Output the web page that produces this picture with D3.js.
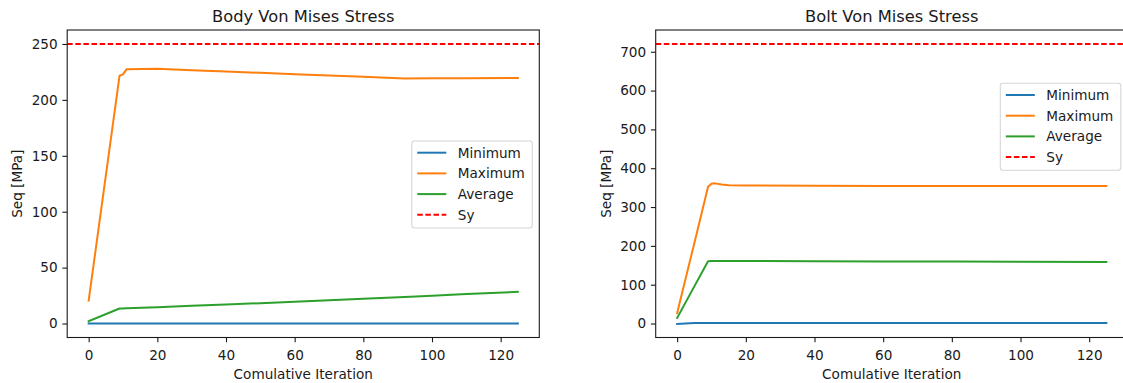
<!DOCTYPE html>
<html>
<head>
<meta charset="utf-8">
<script src="https://cdn.jsdelivr.net/npm/d3@7/dist/d3.min.js"></script>
<style>
  html, body { margin: 0; padding: 0; background: #fff; }
  svg { display: block; }
  text { font-family: "DejaVu Sans", sans-serif; fill: #1a1a1a; }
</style>
</head>
<body>
<svg id="chart" width="1123" height="383"></svg>
<script>
// series names + colours (matplotlib default cycle)
const seriesNames = ["Minimum", "Maximum", "Average"];
const seriesColors = ["#1f77b4", "#ff7f0e", "#2ca02c"];

// body values
const bodyIter = [0, 9, 10, 11, 20, 30, 40, 50, 60, 70, 80, 92, 100, 110, 125];
const bodyMin  = [0, 0, 0, 0, 0, 0, 0, 0, 0, 0, 0, 0, 0, 0, 0];
const bodyMax  = [20.5, 221.6, 222.8, 227.3, 227.8, 226.6, 225.4, 224.2, 223.0, 221.9, 220.8, 219.2, 219.3, 219.3, 219.5];
const bodyAvg  = [2, 13.4, 13.5, 13.7, 14.6, 15.8, 17.0, 18.2, 19.5, 20.8, 22.1, 23.8, 24.9, 26.3, 28.3];
const bodySy = 250;
const bodyYTicks = [0, 50, 100, 150, 200, 250];

// bolt values
const boltIter = [0, 5, 9, 10, 11, 13, 15, 20, 40, 60, 80, 100, 125];
const boltMin  = [-1, 1.5, 1.5, 1.5, 1.5, 1.5, 1.5, 1.5, 1.5, 1.5, 1.5, 1.5, 1.5];
const boltMax  = [27, 207, 352, 360, 361, 358, 356, 355.5, 355, 354.5, 354, 354, 354];
const boltAvg  = [14.6, 95.7, 160.6, 161, 161, 161, 161, 161, 160.5, 160, 159.5, 159, 158.5];
const boltSy = 720;
const boltYTicks = [0, 100, 200, 300, 400, 500, 600, 700];

const xTicks = [0, 20, 40, 60, 80, 100, 120];

const svg = d3.select("#chart");
const FS = 13.6;

function panel(opts) {
  const {left, iter, series, sy, yDomain, yTicks, title, legendTop, id} = opts;
  const top = 30, bottom = 337.5, width = 472.1;
  const right = left + width;

  const x = d3.scaleLinear().domain([-6.25, 131.25]).range([left, right]);
  const y = d3.scaleLinear().domain(yDomain).range([bottom, top]);

  const g = svg.append("g");

  g.append("clipPath").attr("id", "clip-" + id)
    .append("rect").attr("x", left).attr("y", top)
    .attr("width", width).attr("height", bottom - top);

  const plot = g.append("g").attr("clip-path", `url(#clip-${id})`);

  const line = d3.line()
    .x(d => x(d[0]))
    .y(d => y(d[1]));

  series.forEach((vals, i) => {
    plot.append("path")
      .datum(iter.map((it, k) => [it, vals[k]]))
      .attr("fill", "none")
      .attr("stroke", seriesColors[i])
      .attr("stroke-width", 2)
      .attr("stroke-linejoin", "round")
      .attr("stroke-linecap", "square")
      .attr("d", line);
  });

  // yield line
  plot.append("line")
    .attr("x1", left).attr("x2", right)
    .attr("y1", y(sy)).attr("y2", y(sy))
    .attr("stroke", "#ff0000")
    .attr("stroke-width", 2)
    .attr("stroke-dasharray", "5.5,2.6");

  // axes
  const xAxis = d3.axisBottom(x).tickValues(xTicks).tickSize(4.8).tickPadding(4.8).tickFormat(d3.format("d"));
  const yAxis = d3.axisLeft(y).tickValues(yTicks).tickSize(4.8).tickPadding(4.8).tickFormat(d3.format("d"));

  const gx = g.append("g").attr("transform", `translate(0,${bottom})`).call(xAxis);
  const gy = g.append("g").attr("transform", `translate(${left},0)`).call(yAxis);
  [gx, gy].forEach(a => {
    a.select(".domain").remove();
    a.selectAll(".tick line").attr("stroke", "#1a1a1a").attr("stroke-width", 1.1);
    a.selectAll(".tick text").attr("font-size", FS).attr("fill", "#1a1a1a")
      .attr("font-family", "DejaVu Sans, sans-serif");
  });
  gx.selectAll(".tick text").attr("dy", null).attr("y", 22);

  // frame
  g.append("rect")
    .attr("x", left).attr("y", top)
    .attr("width", width).attr("height", bottom - top)
    .attr("fill", "none").attr("stroke", "#1a1a1a").attr("stroke-width", 1.1);

  // title and labels
  g.append("text")
    .attr("x", (left + right) / 2).attr("y", 22)
    .attr("text-anchor", "middle").attr("font-size", 16.3)
    .text(title);

  g.append("text")
    .attr("x", (left + right) / 2).attr("y", 378.5)
    .attr("text-anchor", "middle").attr("font-size", FS)
    .text("Comulative Iteration");

  g.append("text")
    .attr("transform", `translate(${left - 45},${(top + bottom) / 2}) rotate(-90)`)
    .attr("text-anchor", "middle").attr("font-size", FS)
    .text("Seq [MPa]");

  // legend
  const lw = 120.5, lh = 87;
  const lx = right - 7 - lw;
  const leg = g.append("g").attr("transform", `translate(${lx},${legendTop})`);
  leg.append("rect")
    .attr("width", lw).attr("height", lh).attr("rx", 2.7)
    .attr("fill", "#fff").attr("fill-opacity", 0.8)
    .attr("stroke", "#d6d6d6").attr("stroke-width", 1.1);

  const items = seriesNames.map((n, i) => ({name: n, color: seriesColors[i], dash: null}))
    .concat([{name: "Sy", color: "#ff0000", dash: "5.5,2.6"}]);

  items.forEach((it, i) => {
    const cy = 11.7 + i * 20.7;
    leg.append("line")
      .attr("x1", 5.5).attr("x2", 34.5).attr("y1", cy).attr("y2", cy)
      .attr("stroke", it.color).attr("stroke-width", 2)
      .attr("stroke-dasharray", it.dash);
    leg.append("text")
      .attr("x", 46).attr("y", cy).attr("dy", "0.36em")
      .attr("font-size", FS)
      .text(it.name);
  });
}

panel({
  id: "body", left: 67.2, iter: bodyIter,
  series: [bodyMin, bodyMax, bodyAvg], sy: bodySy,
  yDomain: [-12.5, 262.5], yTicks: bodyYTicks,
  title: "Body Von Mises Stress", legendTop: 141
});

panel({
  id: "bolt", left: 655.7, iter: boltIter,
  series: [boltMin, boltMax, boltAvg], sy: boltSy,
  yDomain: [-36, 756], yTicks: boltYTicks,
  title: "Bolt Von Mises Stress", legendTop: 83.3
});
</script>
</body>
</html>
